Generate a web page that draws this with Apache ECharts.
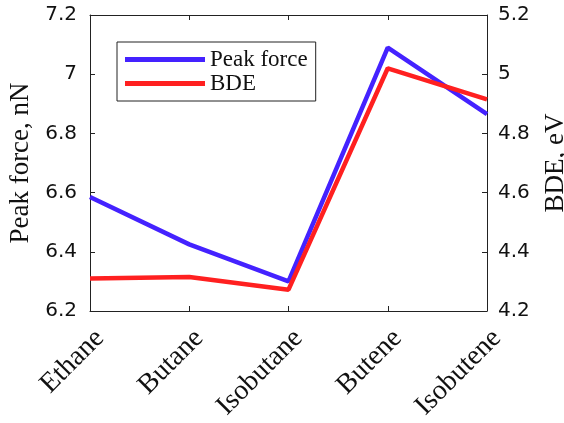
<!DOCTYPE html>
<html><head><meta charset="utf-8">
<script src="https://cdn.jsdelivr.net/npm/echarts@6/dist/echarts.min.js"></script>
<style>html,body{margin:0;padding:0;background:#fff}#c{width:564px;height:423px}</style>
</head><body><div id="c"></div>
<script>
const categories = ['Ethane', 'Butane', 'Isobutane', 'Butene', 'Isobutene'];
const peakForce = [6.585, 6.425, 6.30, 7.09, 6.865];
const bde = [4.31, 4.315, 4.272, 5.02, 4.915];
const leftTicks = {min: 6.2, max: 7.2, interval: 0.2};
const rightTicks = {min: 4.2, max: 5.2, interval: 0.2};

const serif = 'Liberation Serif';
const sans = 'DejaVu Sans';
const chart = echarts.init(document.getElementById('c'));
const axisLine = {show: true, lineStyle: {color: '#222', width: 1}};
chart.setOption({
  animation: false,
  grid: {left: 90, right: 77, top: 15, bottom: 112, show: false, containLabel: false, outerBoundsMode: 'none'},
  legend: {
    orient: 'vertical', left: 117, top: 42,
    borderColor: '#222', borderWidth: 1, backgroundColor: '#fff',
    padding: [6, 8, 6, 8], itemGap: 1,
    itemWidth: 80, itemHeight: 5, icon: 'rect',
    textStyle: {fontFamily: serif, fontSize: 23, color: '#111', lineHeight: 23},
    data: ['Peak force', 'BDE']
  },
  xAxis: [{
    type: 'category', data: categories, boundaryGap: false,
    axisLine: axisLine,
    axisTick: {show: true, inside: true, length: 5, lineStyle: {color: '#222'}},
    axisLabel: {rotate: 45, fontFamily: serif, fontSize: 28, color: '#111', margin: 13,
      interval: 0, verticalAlign: 'top'}
  }, {
    type: 'category', data: categories, boundaryGap: false, position: 'top',
    axisLine: axisLine,
    axisTick: {show: true, inside: true, length: 5, lineStyle: {color: '#222'}},
    axisLabel: {show: false}
  }],
  yAxis: [{
    type: 'value', position: 'left', min: leftTicks.min, max: leftTicks.max, interval: leftTicks.interval,
    name: 'Peak force, nN', nameLocation: 'middle', nameGap: 55, nameRotate: 90,
    nameTextStyle: {fontFamily: serif, fontSize: 27, color: '#111'},
    axisLine: axisLine, splitLine: {show: false},
    axisTick: {show: true, inside: true, length: 5, lineStyle: {color: '#222'}},
    axisLabel: {fontFamily: sans, fontSize: 20, color: '#111', margin: 13}
  }, {
    type: 'value', position: 'right', min: rightTicks.min, max: rightTicks.max, interval: rightTicks.interval,
    name: 'BDE, eV', nameLocation: 'middle', nameGap: 55, nameRotate: 90,
    nameTextStyle: {fontFamily: serif, fontSize: 27, color: '#111'},
    axisLine: axisLine, splitLine: {show: false},
    axisTick: {show: true, inside: true, length: 5, lineStyle: {color: '#222'}},
    axisLabel: {fontFamily: sans, fontSize: 20, color: '#111', margin: 11}
  }],
  series: [{
    name: 'Peak force', type: 'line', data: peakForce, yAxisIndex: 0,
    showSymbol: false, symbol: 'none', color: '#4422ff',
    lineStyle: {width: 4.5, color: '#4422ff'}
  }, {
    name: 'BDE', type: 'line', data: bde, yAxisIndex: 1,
    showSymbol: false, symbol: 'none', color: '#ff2020',
    lineStyle: {width: 4.5, color: '#ff2020'}
  }]
});
</script></body></html>
